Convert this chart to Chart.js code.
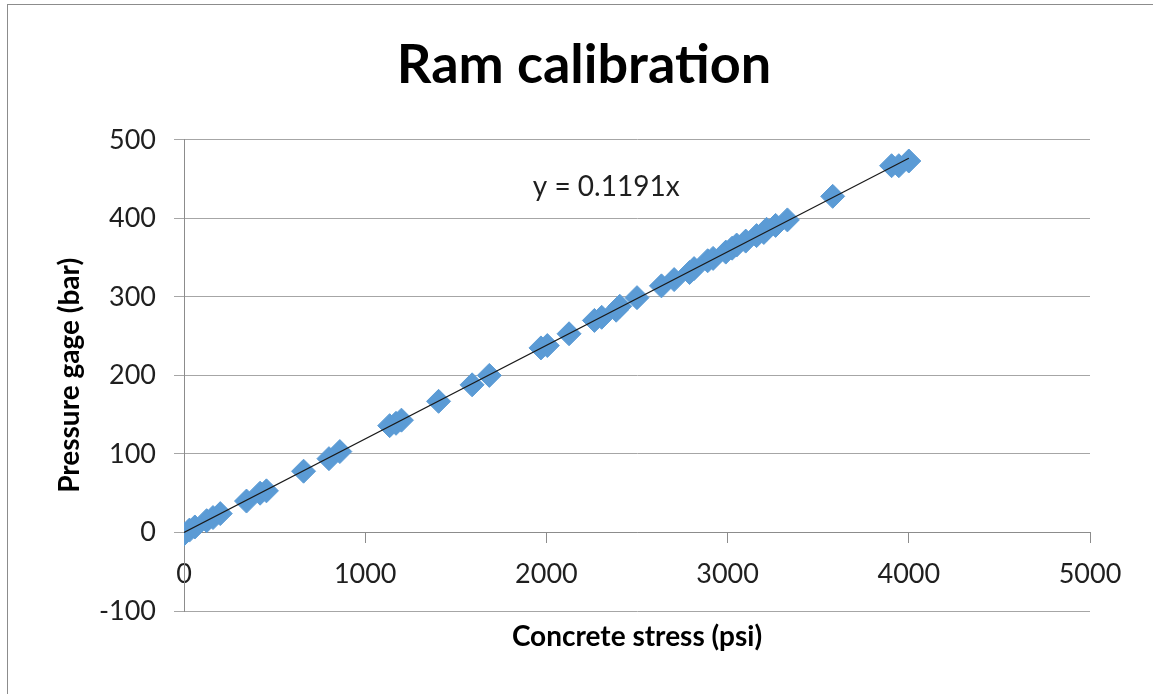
<!DOCTYPE html>
<html>
<head>
<meta charset="utf-8">
<title>Ram calibration</title>
<script src="https://cdn.jsdelivr.net/npm/chart.js@4/dist/chart.umd.min.js"></script>
<style>
  html, body { margin: 0; padding: 0; background: #ffffff; overflow: hidden; }
  #frame {
    position: absolute; left: 7px; top: 4px; width: 1200px; height: 760px;
    border-left: 1px solid #8c8c8c; border-top: 1px solid #8c8c8c;
  }
  #wrap { position: absolute; left: 0; top: 0; width: 1153px; height: 694px; }
</style>
</head>
<body>
<div id="frame"></div>
<div id="wrap"><canvas id="chart" width="1153" height="694"></canvas></div>
<script>
// Measured pairs: concrete stress (psi) vs. pressure gage reading (bar)
const stressPsi = [
  0, 30, 60, 125, 160, 200, 345, 420, 455, 660,
  800, 860, 1135, 1170, 1200, 1405, 1590, 1685, 1970, 2005,
  2125, 2265, 2305, 2385, 2405, 2500, 2635, 2705, 2790, 2815,
  2890, 2920, 2990, 3025, 3050, 3100, 3160, 3200, 3215, 3265,
  3330, 3580, 3905, 3945, 4000
];
const gageBar = [
  -2, 3, 7, 15, 19, 24, 40, 50, 53, 78,
  94, 103, 136, 139, 143, 167, 188, 200, 235, 238,
  253, 270, 274, 283, 288, 299, 314, 322, 331, 336,
  346, 349, 357, 362, 366, 371, 378, 382, 386, 391,
  398, 428, 467, 467, 473
];

// Linear fit through the origin
const trendSlope = 0.1191;
const trendRange = [0, 4000];
const trendLabel = 'y = ' + trendSlope + 'x';
const trendLabelAt = { x: 2330, y: 440 };

// Axis settings
const xTicks = { min: 0, max: 5000, step: 1000 };
const yTicks = { min: -100, max: 500, step: 100 };

const chartTitle = 'Ram calibration';
const xTitle = 'Concrete stress (psi)';
const yTitle = 'Pressure gage (bar)';

const FONT = 'Lato, "Open Sans", "Noto Sans", sans-serif';
const GRID = '#a6a6a6';
const AXIS = '#8c8c8c';
const TEXT = '#1f1f1f';

const points = stressPsi.map((x, i) => ({ x: x, y: gageBar[i] }));
const trendPoints = trendRange.map(x => ({ x: x, y: trendSlope * x }));

// Writes the fitted equation next to the trendline
const equationLabel = {
  id: 'equationLabel',
  afterDatasetsDraw(chart) {
    const { ctx, scales } = chart;
    const px = scales.x.getPixelForValue(trendLabelAt.x);
    const py = scales.y.getPixelForValue(trendLabelAt.y);
    ctx.save();
    ctx.font = '28px ' + FONT;
    ctx.fillStyle = TEXT;
    ctx.textAlign = 'center';
    ctx.textBaseline = 'middle';
    ctx.fillText(trendLabel, px, py);
    ctx.restore();
  }
};

new Chart(document.getElementById('chart'), {
  type: 'scatter',
  data: {
    datasets: [
      {
        label: 'Linear fit',
        type: 'line',
        data: trendPoints,
        borderColor: '#1a1a1a',
        borderWidth: 1.2,
        pointRadius: 0,
        fill: false,
        order: 1
      },
      {
        label: 'Pressure gage',
        data: points,
        pointStyle: 'rectRot',
        pointRadius: 12,
        pointHoverRadius: 12,
        backgroundColor: '#5b9bd5',
        borderColor: '#5b9bd5',
        borderWidth: 1,
        order: 2
      }
    ]
  },
  options: {
    responsive: false,
    animation: false,
    events: [],
    layout: { padding: { left: 15, right: 0, top: 0, bottom: 83 } },
    plugins: {
      legend: { display: false },
      tooltip: { enabled: false },
      title: {
        display: true,
        text: chartTitle,
        color: '#000000',
        font: { family: FONT, size: 54, weight: 'bold' },
        padding: { top: 33, bottom: 42 }
      }
    },
    scales: {
      x: {
        type: 'linear',
        position: { y: 0 },
        min: xTicks.min,
        max: xTicks.max,
        ticks: {
          stepSize: xTicks.step,
          color: TEXT,
          padding: 16,
          maxRotation: 0,
          font: { family: FONT, size: 27 },
          callback: v => String(v)
        },
        grid: {
          drawOnChartArea: false,
          drawTicks: true,
          tickLength: 10,
          color: AXIS
        },
        border: { display: true, color: AXIS, width: 1 },
        title: {
          display: true,
          text: xTitle,
          color: '#000000',
          font: { family: FONT, size: 28, weight: 'bold' },
          padding: { top: 13, bottom: 0 }
        }
      },
      y: {
        type: 'linear',
        min: yTicks.min,
        max: yTicks.max,
        afterFit(scale) { scale.width = 169; },
        ticks: {
          stepSize: yTicks.step,
          color: TEXT,
          padding: 18,
          font: { family: FONT, size: 27 },
          callback: v => String(v)
        },
        grid: {
          color: GRID,
          tickLength: 10,
          lineWidth: 1
        },
        border: { display: true, color: AXIS, width: 1 },
        title: {
          display: true,
          text: yTitle,
          color: '#000000',
          font: { family: FONT, size: 28, weight: 'bold' },
          padding: { top: 38, bottom: 0 }
        }
      },
      // empty right-hand margin beside the plot
      yMargin: {
        type: 'linear',
        position: 'right',
        display: true,
        afterFit(scale) { scale.width = 63; },
        ticks: { display: false },
        grid: { display: false },
        border: { display: false }
      }
    }
  },
  plugins: [equationLabel]
});
</script>
</body>
</html>
